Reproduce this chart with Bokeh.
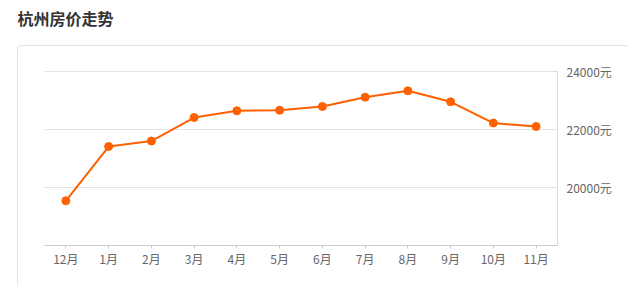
from bokeh.plotting import figure
from bokeh.models import Range1d, FactorRange, FixedTicker, CustomJSTickFormatter, InlineStyleSheet, Title
from bokeh.embed import file_html
from bokeh.resources import INLINE

months = ["12月", "1月", "2月", "3月", "4月", "5月", "6月", "7月", "8月", "9月", "10月", "11月"]
prices = [19540, 21410, 21600, 22410, 22640, 22660, 22790, 23110, 23330, 22950, 22220, 22100]
y_ticks = [20000, 22000, 24000]
title_text = "杭州房价走势"

FONT = "Noto Sans CJK SC"

box_css = InlineStyleSheet(css="""
:host { overflow: hidden; }
:host::after {
  content: "";
  position: absolute;
  left: 17px; top: 45px; right: -20px; bottom: -20px;
  border: 1px solid #e3e3e3;
  border-radius: 4px;
  pointer-events: none;
}
""")

p = figure(width=627, height=285, x_range=FactorRange(*months), y_range=Range1d(18000, 24030),
           output_backend="svg", toolbar_location=None, y_axis_location="right", title=None,
           min_border_left=44, min_border_right=70, min_border_top=70, min_border_bottom=40,
           stylesheets=[box_css])
p.outline_line_color = None
p.background_fill_color = "white"
p.border_fill_color = "white"

spacer = Title(text=" ", text_font=FONT, text_font_size="27px", standoff=0)
p.add_layout(spacer, "above")
main_title = Title(text=title_text, text_font=FONT, text_font_size="16px", text_font_style="bold",
                   text_color="#333333", offset=-27, standoff=0)
p.add_layout(main_title, "above")

p.xgrid.grid_line_color = None
p.ygrid.grid_line_color = "#e3e3e3"
p.ygrid.ticker = FixedTicker(ticks=y_ticks)

ya = p.yaxis[0]
ya.ticker = FixedTicker(ticks=y_ticks)
ya.formatter = CustomJSTickFormatter(code="return tick + '元'")
ya.axis_line_color = "#dddddd"
ya.major_tick_line_color = None
ya.major_tick_in = 0
ya.major_tick_out = 0
ya.minor_tick_line_color = None
ya.minor_tick_in = 0
ya.minor_tick_out = 0
ya.major_label_standoff = 9
ya.major_label_text_font = FONT
ya.major_label_text_font_size = "12px"
ya.major_label_text_color = "#666666"

xa = p.xaxis[0]
xa.axis_line_color = "#cccccc"
xa.axis_line_width = 1
xa.major_tick_line_color = "#cccccc"
xa.major_tick_in = 0
xa.major_tick_out = 3
xa.major_label_standoff = 1
xa.major_label_text_font = FONT
xa.major_label_text_font_size = "12px"
xa.major_label_text_color = "#666666"

p.line(months, prices, line_color="#ff6000", line_width=2)
p.scatter(months, prices, size=8, fill_color="#ff6000", line_color="#ff6000")

open("out.html", "w").write(file_html(p, INLINE))
